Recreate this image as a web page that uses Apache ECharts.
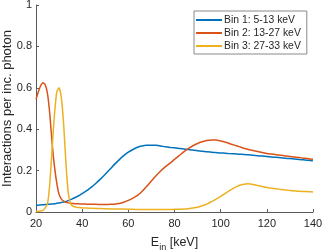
<!DOCTYPE html>
<html><head><meta charset="utf-8">
<script src="https://cdn.jsdelivr.net/npm/echarts@6/dist/echarts.min.js"></script>
<style>html,body{margin:0;padding:0;background:#fff}#c{width:324px;height:251px}</style>
</head><body><div id="c"></div>
<script>
const energies = [20,21,22,23,24,25,26,27,28,29,30,31,32,33,34,35,36,37,38,39,40,
  42,44,46,48,50,52,54,56,58,60,62,64,66,68,70,72,74,76,78,80,82,84,86,88,90,
  92,94,96,98,100,102,104,106,108,110,112,114,116,118,120,122,124,126,128,130,132,134,136,138,140];
const bin1 = [0.032,0.033,0.034,0.035,0.036,0.037,0.038,0.039,0.040,0.042,0.044,0.046,0.048,0.051,0.055,0.060,0.065,0.070,0.076,0.082,0.089,
  0.103,0.120,0.139,0.160,0.182,0.206,0.230,0.252,0.272,0.289,0.302,0.313,0.319,0.322,0.323,0.322,0.319,0.315,0.312,0.310,0.307,0.304,0.302,0.299,0.296,
  0.294,0.291,0.289,0.287,0.285,0.284,0.282,0.281,0.279,0.278,0.276,0.274,0.272,0.270,0.268,0.266,0.264,0.262,0.260,0.258,0.256,0.254,0.252,0.250,0.247];
const bin2 = [0.544,0.58,0.61,0.625,0.615,0.57,0.47,0.33,0.22,0.14,0.085,0.062,0.052,0.047,0.044,0.042,0.041,0.040,0.040,0.039,0.039,
  0.038,0.037,0.037,0.036,0.036,0.037,0.038,0.041,0.047,0.056,0.067,0.080,0.100,0.124,0.150,0.175,0.198,0.218,0.235,0.254,0.272,0.290,0.306,0.320,0.331,
  0.339,0.345,0.348,0.348,0.343,0.337,0.330,0.323,0.316,0.308,0.302,0.297,0.292,0.287,0.283,0.280,0.277,0.274,0.271,0.268,0.266,0.263,0.260,0.257,0.255];
const bin3 = [0.003,0.003,0.005,0.008,0.02,0.04,0.14,0.31,0.47,0.58,0.60,0.55,0.42,0.23,0.09,0.04,0.028,0.024,0.022,0.021,0.020,
  0.019,0.018,0.017,0.017,0.016,0.015,0.015,0.014,0.014,0.013,0.013,0.012,0.012,0.012,0.012,0.012,0.012,0.012,0.012,0.013,0.013,0.014,0.016,0.019,0.023,
  0.030,0.038,0.050,0.062,0.075,0.090,0.105,0.118,0.128,0.134,0.136,0.133,0.128,0.123,0.118,0.115,0.112,0.109,0.106,0.104,0.102,0.100,0.099,0.098,0.097];
const seriesNames = ['Bin 1: 5-13 keV','Bin 2: 13-27 keV','Bin 3: 27-33 keV'];
const colors = ['#0072BD','#D95319','#EDB120'];
const xTicks = {min:20, max:140, interval:20};
const yTicks = {min:0, max:1, interval:0.2};

const pair = arr => energies.map((e,i)=>[e,arr[i]]);
const txt = '#262626', axc = '#5a5a5a';
const FF = 'Liberation Sans, Arial, sans-serif';
const chart = echarts.init(document.getElementById('c'), null, {renderer:'canvas'});
chart.setOption({
  animation:false,
  textStyle:{fontFamily:FF},
  grid:{left:36,right:11,top:5,bottom:39,containLabel:false,outerBoundsMode:'none'},
  legend:{
    data:seriesNames, orient:'vertical', left:194, top:11,
    backgroundColor:'#fff', borderColor:'#8a8a8a', borderWidth:1, borderRadius:0,
    padding:[4,6,3,2], itemGap:3, itemWidth:26, itemHeight:2, icon:'rect',
    textStyle:{fontSize:10.4, color:txt, padding:[0,0,0,-3], fontFamily:FF}
  },
  xAxis:{type:'value', min:xTicks.min, max:xTicks.max, interval:xTicks.interval,
    name:'{a|E}{s|in}{a| [keV]}', nameLocation:'middle', nameGap:22, nameMoveOverlap:false,
    nameTextStyle:{rich:{a:{fontSize:12.5,color:txt,fontFamily:FF},s:{fontSize:9,color:txt,verticalAlign:'bottom',padding:[9,0,0,0],fontFamily:FF}}},
    axisLine:{show:true,onZero:false,lineStyle:{color:axc,width:1}},
    axisTick:{show:true,inside:true,length:3,lineStyle:{color:axc}},
    axisLabel:{fontSize:11,color:txt,margin:6},
    splitLine:{show:false}},
  yAxis:{type:'value', min:yTicks.min, max:yTicks.max, interval:yTicks.interval,
    name:'Interactions per inc. photon', nameLocation:'middle', nameGap:22, nameMoveOverlap:false,
    nameTextStyle:{fontSize:13,color:txt,fontFamily:FF},
    axisLine:{show:true,lineStyle:{color:axc,width:1}},
    axisTick:{show:true,inside:true,length:3,lineStyle:{color:axc}},
    axisLabel:{fontSize:11,color:txt,margin:4,formatter:v=>String(Math.round(v*10)/10)},
    splitLine:{show:false}},
  series:[bin1,bin2,bin3].map((d,i)=>({
    name:seriesNames[i], type:'line', data:pair(d), showSymbol:false, smooth:0.2,
    itemStyle:{color:colors[i]}, lineStyle:{color:colors[i], width:1.5}
  }))
});
</script></body></html>
